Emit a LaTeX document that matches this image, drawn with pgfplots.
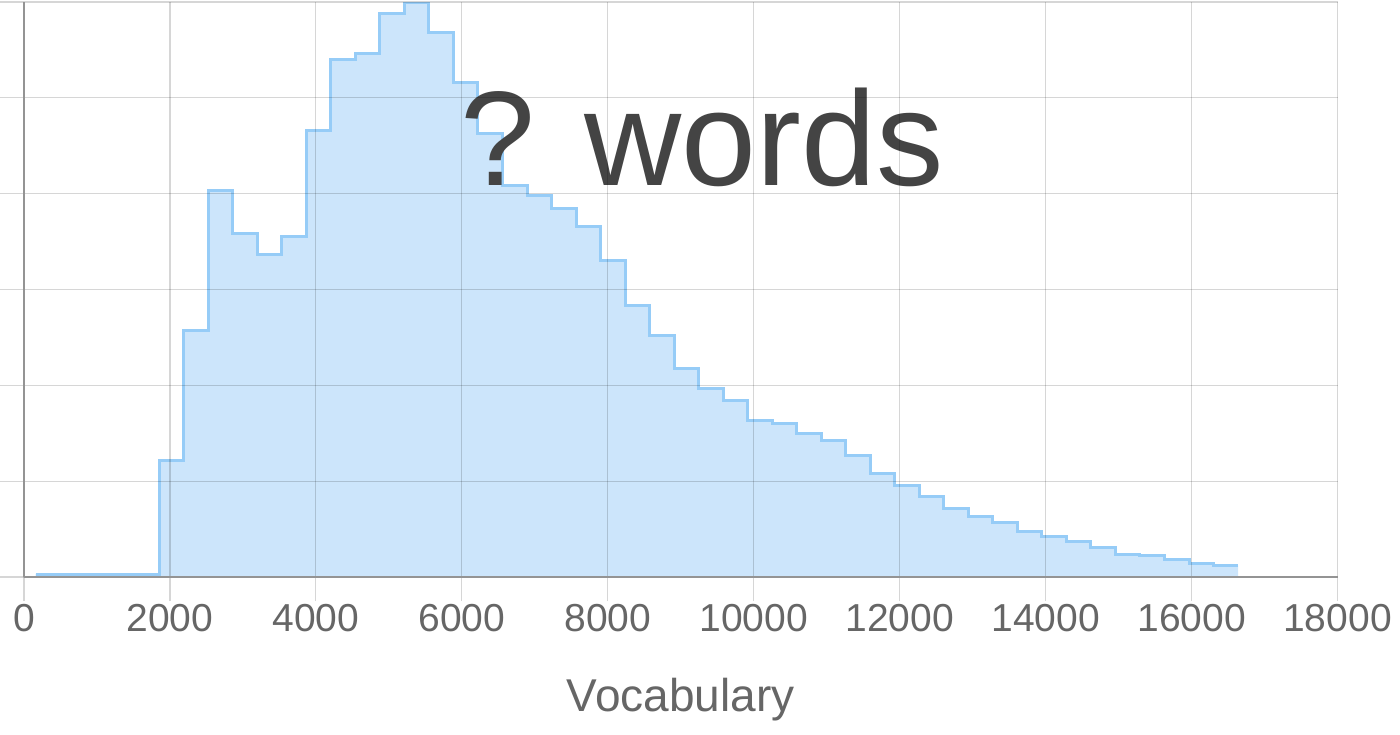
\documentclass[border=0pt]{standalone}
\usepackage{pgfplots}
\pgfplotsset{compat=1.18}
\usepackage{pgfplotstable}
\usepackage{fontspec}
\setmainfont{Liberation Sans}
\definecolor{lineblue}{RGB}{150,204,247}
\definecolor{fillblue}{RGB}{204,229,251}
\definecolor{ticktext}{RGB}{102,102,102}
\definecolor{titletext}{RGB}{68,68,68}
\pgfplotstableread{
x y
160 3.1
1853 122
2189 256.8
2525 402.8
2861 358.4
3197 336.8
3533 354.8
3869 466.1
4205 539.8
4541 546.1
4877 588.4
5213 599
5549 568.6
5885 516.5
6221 462.7
6557 408.8
6893 398.3
7229 384.5
7565 365.3
7901 330.6
8237 283.6
8573 252.3
8909 217.6
9245 196.8
9581 183.8
9917 163.7
10253 160.3
10589 149.8
10925 142.9
11261 127.2
11597 108.1
11933 95.9
12269 83.7
12605 71.6
12941 63.6
13277 56.6
13613 47.2
13949 42.0
14285 36.8
14621 30.6
14957 24.0
15293 22.6
15629 18.5
15965 14.3
16301 12.2
16637 12.2
}\hist
\begin{document}
\begin{tikzpicture}
\begin{axis}[
  scale only axis,
  width=656.75bp, height=287.5bp,
  xmin=0, xmax=18000, ymin=0, ymax=600,
  xtick={0,2000,...,18000},
  ytick={0,100,...,600},
  yticklabels={},
  scaled x ticks=false,
  /pgf/number format/1000 sep={},
  /pgf/number format/assume math mode=true,
  axis on top,
  grid=major,
  grid style={black, opacity=0.16, line width=0.6bp},
  axis x line*=bottom, axis y line*=left,
  axis line style={black!42, line width=0.9bp, -},
  tick align=outside,
  major tick length=12bp,
  tick style={black, opacity=0.16, line width=0.6bp},
  xticklabel style={font=\fontsize{19.5bp}{20bp}\selectfont, text=ticktext, anchor=base, yshift=-15bp},
  xlabel={Vocabulary},
  xlabel style={font=\fontsize{23bp}{24bp}\selectfont, text=ticktext, at={(axis description cs:0.5,0)}, anchor=base, yshift=-67.35bp},
]
\addplot[const plot, draw=none, fill=fillblue] table[x=x,y=y] {\hist} \closedcycle;
\addplot[const plot, draw=lineblue, line width=1.5bp, line join=miter] table[x=x,y=y] {\hist};
\node[anchor=base, font=\fontsize{67.3bp}{70bp}\selectfont, text=titletext] at (axis cs:9290,408.8) {? words};
\end{axis}
\pgfresetboundingbox
\path[use as bounding box] ([xshift=-12bp,yshift=-79bp]current axis.south west) rectangle ([xshift=31.25bp,yshift=1bp]current axis.north east);
\end{tikzpicture}
\end{document}
